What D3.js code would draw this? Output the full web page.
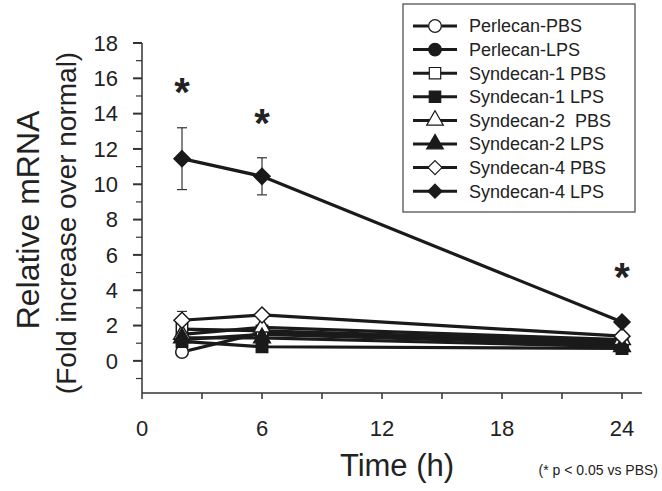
<!DOCTYPE html>
<html>
<head>
<meta charset="utf-8">
<script src="https://cdn.jsdelivr.net/npm/d3@7"></script>
<style>
  body { margin: 0; background: #fff; }
  text { font-family: "Liberation Sans", Arial, sans-serif; fill: #222; }
</style>
</head>
<body>
<script>
const w = 662;
const h = 491;

// data
const hours = [2, 6, 24];
const seriesNames = ['Perlecan-PBS', 'Perlecan-LPS', 'Syndecan-1 PBS', 'Syndecan-1 LPS',
                     'Syndecan-2  PBS', 'Syndecan-2 LPS', 'Syndecan-4 PBS', 'Syndecan-4 LPS'];
const perlecanPBS = [0.5, 1.6, 1.0];
const perlecanLPS = [1.2, 1.5, 0.9];
const syndecan1PBS = [1.8, 1.7, 1.1];
const syndecan1LPS = [1.1, 0.8, 0.7];
const syndecan2PBS = [1.5, 1.9, 1.2];
const syndecan2LPS = [1.3, 1.3, 0.8];
const syndecan4PBS = [2.3, 2.6, 1.4];
const syndecan4LPS = [11.45, 10.45, 2.2];
const syndecan4LPSErr = [1.75, 1.05, 0.2];
const syndecan4PBSErr = [0.5, 0.15, 0.1];
const starHours = [2, 6, 24];
const starValues = [14.45, 12.65, 3.95];
const xTicks = [0, 6, 12, 18, 24];
const yTicks = [0, 2, 4, 6, 8, 10, 12, 14, 16, 18];

const seriesValues = [perlecanPBS, perlecanLPS, syndecan1PBS, syndecan1LPS,
                      syndecan2PBS, syndecan2LPS, syndecan4PBS, syndecan4LPS];
const shapes = ['circle', 'circle', 'square', 'square', 'triangle', 'triangle', 'diamond', 'diamond'];
const filled = [false, true, false, true, false, true, false, true];

const series = seriesNames.map((name, i) => ({
  name: name,
  shape: shapes[i],
  filled: filled[i],
  values: seriesValues[i].map((v, j) => ({
    x: hours[j],
    y: v,
    err: i === 7 ? syndecan4LPSErr[j] : (i === 6 ? syndecan4PBSErr[j] : 0)
  }))
}));

const svg = d3.select('body')
              .append('svg')
              .attr('width', w)
              .attr('height', h);

const xScale = d3.scaleLinear().domain([0, 25]).range([142, 642]);
const yScale = d3.scaleLinear().domain([-1.82, 18]).range([393, 43]);

// y axis
const yAxis = svg.append('g').attr('transform', 'translate(142,0)');
yAxis.append('line')
     .attr('x1', 0).attr('x2', 0)
     .attr('y1', yScale(-1.82)).attr('y2', yScale(18))
     .attr('stroke', '#333').attr('stroke-width', 1.5);
yAxis.selectAll('.minor')
     .data(d3.range(-1, 18, 2))
     .enter().append('line')
     .attr('x1', -6).attr('x2', 0)
     .attr('y1', d => yScale(d)).attr('y2', d => yScale(d))
     .attr('stroke', '#333').attr('stroke-width', 1.2);
yAxis.selectAll('.major')
     .data(yTicks)
     .enter().append('line')
     .attr('x1', -9).attr('x2', 0)
     .attr('y1', d => yScale(d)).attr('y2', d => yScale(d))
     .attr('stroke', '#333').attr('stroke-width', 2);
yAxis.selectAll('.ylab')
     .data(yTicks)
     .enter().append('text')
     .attr('x', -24)
     .attr('y', d => yScale(d))
     .attr('dy', '0.35em')
     .attr('text-anchor', 'end')
     .style('font-size', '22px')
     .text(d => d);

// x axis
const xAxis = svg.append('g').attr('transform', 'translate(0,393)');
xAxis.append('line')
     .attr('x1', xScale(0)).attr('x2', xScale(25))
     .attr('stroke', '#333').attr('stroke-width', 1.5);
xAxis.selectAll('.xt')
     .data(d3.range(0, 25, 3))
     .enter().append('line')
     .attr('x1', d => xScale(d)).attr('x2', d => xScale(d))
     .attr('y1', 0).attr('y2', 6)
     .attr('stroke', '#333').attr('stroke-width', 1.5);
xAxis.selectAll('.xlab')
     .data(xTicks)
     .enter().append('text')
     .attr('x', d => xScale(d))
     .attr('y', 43)
     .attr('text-anchor', 'middle')
     .style('font-size', '22px')
     .text(d => d);

// axis titles
svg.append('text')
   .attr('transform', 'translate(39,220) rotate(-90)')
   .attr('text-anchor', 'middle')
   .style('font-size', '32px')
   .text('Relative mRNA');
svg.append('text')
   .attr('transform', 'translate(76,223) rotate(-90)')
   .attr('text-anchor', 'middle')
   .style('font-size', '28px')
   .text('(Fold increase over normal)');
svg.append('text')
   .attr('x', 397)
   .attr('y', 476)
   .attr('text-anchor', 'middle')
   .style('font-size', '31px')
   .text('Time (h)');
svg.append('text')
   .attr('x', 658)
   .attr('y', 475)
   .attr('text-anchor', 'end')
   .style('font-size', '14px')
   .text('(* p < 0.05 vs PBS)');

const symbolPath = (shape, size) => {
  if (shape === 'diamond') {
    const r = size;
    return 'M0,' + (-r) + 'L' + r + ',0L0,' + r + 'L' + (-r) + ',0Z';
  }
  const type = shape === 'circle' ? d3.symbolCircle : shape === 'square' ? d3.symbolSquare : d3.symbolTriangle;
  const area = shape === 'circle' ? 125 : shape === 'square' ? 130 : 120;
  return d3.symbol().type(type).size(area)();
};

const line = d3.line().x(d => xScale(d.x)).y(d => yScale(d.y));

const plot = svg.append('g');

// error bars
series.forEach(s => {
  const eb = plot.append('g');
  s.values.filter(d => d.err > 0).forEach(d => {
    const cx = xScale(d.x);
    eb.append('line')
      .attr('x1', cx).attr('x2', cx)
      .attr('y1', yScale(d.y - d.err)).attr('y2', yScale(d.y + d.err))
      .attr('stroke', '#333').attr('stroke-width', 1.2);
    [d.y - d.err, d.y + d.err].forEach(v => {
      eb.append('line')
        .attr('x1', cx - 5).attr('x2', cx + 5)
        .attr('y1', yScale(v)).attr('y2', yScale(v))
        .attr('stroke', '#333').attr('stroke-width', 1.2);
    });
  });
});

series.forEach(s => {
  plot.append('path')
      .datum(s.values)
      .attr('d', line)
      .attr('fill', 'none')
      .attr('stroke', '#1a1a1a')
      .attr('stroke-width', 3.2);
});

series.forEach(s => {
  plot.selectAll(null)
      .data(s.values)
      .enter().append('path')
      .attr('transform', d => 'translate(' + xScale(d.x) + ',' + yScale(d.y) + ')')
      .attr('d', symbolPath(s.shape, 8))
      .attr('fill', s.filled ? '#1a1a1a' : '#fff')
      .attr('stroke', '#1a1a1a')
      .attr('stroke-width', 1.5);
});

// significance stars
svg.selectAll('.star')
   .data(starHours)
   .enter().append('text')
   .attr('x', d => xScale(d))
   .attr('y', (d, i) => yScale(starValues[i]))
   .attr('text-anchor', 'middle')
   .style('font-size', '40px')
   .style('font-weight', 'bold')
   .text('*');

// legend
const legend = svg.append('g').attr('transform', 'translate(403,4)');
legend.append('rect')
      .attr('width', 232)
      .attr('height', 208)
      .attr('fill', '#fff')
      .attr('stroke', '#444')
      .attr('stroke-width', 1.2);
const rows = legend.selectAll('.row')
                   .data(series)
                   .enter().append('g')
                   .attr('transform', (d, i) => 'translate(0,' + (22 + i * 23.6) + ')');
rows.append('line')
    .attr('x1', 10).attr('x2', 54)
    .attr('stroke', '#1a1a1a')
    .attr('stroke-width', 3);
rows.append('path')
    .attr('transform', 'translate(32,0)')
    .attr('d', d => symbolPath(d.shape, 7))
    .attr('fill', d => d.filled ? '#1a1a1a' : '#fff')
    .attr('stroke', '#1a1a1a')
    .attr('stroke-width', 1.2);
rows.append('text')
    .attr('x', 66)
    .attr('dy', '0.36em')
    .style('font-size', '18px')
    .style('white-space', 'pre')
    .text(d => d.name);
</script>
</body>
</html>
